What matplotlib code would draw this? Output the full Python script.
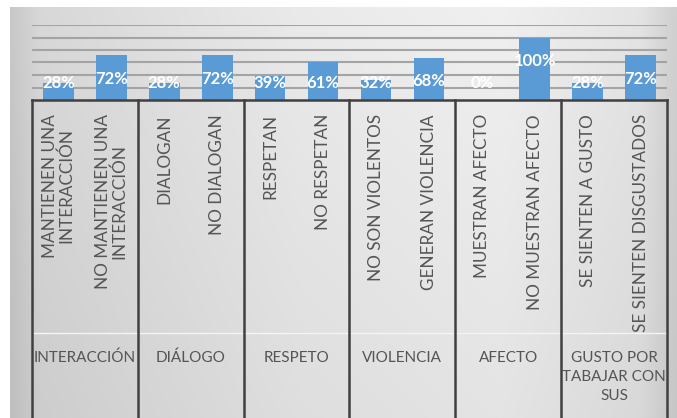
import numpy as np
import matplotlib
matplotlib.use("Agg")
from matplotlib import pyplot as plt
from matplotlib.transforms import blended_transform_factory

plt.rcParams['font.family'] = ['Lato', 'DejaVu Sans']

groups = ['INTERACCIÓN', 'DIÁLOGO', 'RESPETO', 'VIOLENCIA', 'AFECTO',
          'GUSTO POR\nTABAJAR CON\nSUS']
subcats = ['MANTIENEN UNA\nINTERACCIÓN', 'NO MANTIENEN UNA\nINTERACCIÓN',
           'DIALOGAN', 'NO DIALOGAN',
           'RESPETAN', 'NO RESPETAN',
           'NO SON VIOLENTOS', 'GENERAN VIOLENCIA',
           'MUESTRAN AFECTO', 'NO MUESTRAN AFECTO',
           'SE SIENTEN A GUSTO', 'SE SIENTEN DISGUSTADOS']
values = [0.28, 0.72, 0.28, 0.72, 0.39, 0.61, 0.32, 0.68, 0.0, 1.00, 0.28, 0.72]

W, H = 677, 418
fig = plt.figure(figsize=(W / 100, H / 100), dpi=100)

# background gradient
bg = fig.add_axes([0, 0, 1, 1], zorder=-10)
xs = np.arange(W)
prof = np.interp(xs, [0, 9, 10, 40, 300, 500, 640, 667, 677],
                 [255, 255, 200, 216, 234, 240, 228, 212, 208]) / 255.0
ys = np.arange(H)
vprof = np.interp(ys, [0, 418], [1.0, 0.95])
img = np.outer(vprof, prof)
img[:7, :] = 1.0
img[:, :10] = 1.0
bg.imshow(np.dstack([img, img, img]), aspect='auto', extent=[0, W, H, 0])
bg.axis('off')

left, right = 32 / W, 667 / W
base = (H - 100) / H
top = (H - 25) / H
ax = fig.add_axes([left, base, right - left, top - base])
ax.patch.set_alpha(0)
x = np.arange(len(values))
ax.bar(x, values, width=0.58, color='#5b9bd5', zorder=3)
ax.set_xlim(-0.5, len(values) - 0.5)
ax.set_ylim(0, 1.2)
for g in np.arange(0.2, 1.21, 0.2):
    ax.axhline(g, color='#a4a4a4', lw=1.5, zorder=1)
for xi, v in zip(x, values):
    ly = max(v - 0.38, 0.28)
    ax.text(xi, ly, f'{v:.0%}', ha='center', va='center', color='white',
            fontsize=12, fontweight='bold', zorder=4)
ax.set_xticks([])
ax.set_yticks([])
for s in ax.spines.values():
    s.set_visible(False)

# category axis
tr = blended_transform_factory(ax.transData, fig.transFigure)
ax.plot([-0.5, len(values) - 0.5], [base, base], transform=tr, color='#404040',
        lw=1.8, clip_on=False, zorder=5)
ax.plot([-0.5, len(values) - 0.5], [(H - 333) / H] * 2, transform=tr,
        color='#f4f4f4', lw=1.0, clip_on=False, zorder=2)
for b in np.arange(-0.5, len(values), 2):
    ax.plot([b, b], [base, 0], transform=tr, color='#404040', lw=1.8,
            clip_on=False, zorder=5)
for xi, lab in zip(x, subcats):
    ax.text(xi, (H - 114) / H, lab, transform=tr, rotation=90, ha='center',
            va='top', multialignment='center', fontsize=12.3, color='#555555',
            linespacing=1.0, clip_on=False)
for gi, g in enumerate(groups):
    ax.text(2 * gi + 0.5, (H - 351) / H, g, transform=tr, ha='center',
            va='top', fontsize=11, color='#555555', linespacing=1.45,
            clip_on=False)

fig.savefig('out.png', dpi=100)
